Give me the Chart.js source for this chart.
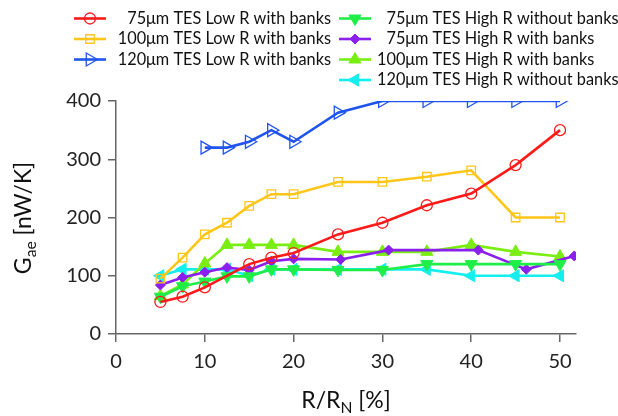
<!doctype html>
<html>
<head>
<title>Gae vs R/RN</title>
<script src="https://cdn.jsdelivr.net/npm/chart.js@4.4.0/dist/chart.umd.min.js"></script>
<style>
body { margin: 0; background: #fff; }
</style>
</head>
<body>
<canvas id="canvas" width="618" height="416"></canvas>
<script>
var xTicks = [0, 10, 20, 30, 40, 50];
var yTicks = [0, 100, 200, 300, 400];

var seriesLabels = [
    "75\u03bcm TES Low R with banks",
    "100\u03bcm TES Low R with banks",
    "120\u03bcm TES Low R with banks",
    "75\u03bcm TES High R without banks",
    "75\u03bcm TES High R with banks",
    "100\u03bcm TES High R with banks",
    "120\u03bcm TES High R without banks"
];

var red75LowX = [5, 7.5, 10, 15, 17.5, 20, 25, 30, 35, 40, 45, 50];
var red75LowY = [55, 64, 80, 120, 131, 139, 171, 191, 221, 241, 290, 350];

var yel100LowX = [5, 7.5, 10, 12.5, 15, 17.5, 20, 25, 30, 35, 40, 45, 50];
var yel100LowY = [95, 131, 171, 191, 220, 240, 240, 261, 261, 270, 281, 200, 200];

var blue120LowX = [10, 12.5, 15, 17.5, 20, 25, 30, 35, 40, 45, 50];
var blue120LowY = [320, 320, 330, 350, 330, 380, 400, 400, 400, 400, 400];

var grn75NoBankX = [5, 7.5, 10, 12.5, 15, 17.5, 20, 25, 30, 35, 40, 45, 50];
var grn75NoBankY = [64, 82, 90, 99, 99, 111, 111, 110, 110, 120, 120, 120, 120];

var pur75HighX = [5, 7.5, 10, 12.5, 15, 17.5, 20, 25.3, 30.7, 40.8, 46.2, 51.6];
var pur75HighY = [84, 97, 106, 114, 110, 125, 129, 128, 144, 144, 111, 134];

var lime100HighX = [5, 7.5, 10, 12.5, 15, 17.5, 20, 25, 30, 35, 40, 45, 50];
var lime100HighY = [65, 85, 121, 153, 153, 153, 153, 141, 141, 141, 153, 141, 133];

var cyan120NoBankX = [5, 7.5, 10, 12.5, 15, 17.5, 20, 25, 30, 35, 40, 45, 50];
var cyan120NoBankY = [100, 111, 111, 111, 100, 111, 111, 111, 111, 111, 100, 100, 100];

var FONT = "Lato, 'Open Sans', sans-serif";

var pairs = function(xs, ys) {
    return xs.map(function(x, i) { return {x: x, y: ys[i]}; });
};

var makeSet = function(label, xs, ys, color, style, radius, rotation, filled) {
    return {
        label: label,
        data: pairs(xs, ys),
        borderColor: color,
        backgroundColor: color,
        borderWidth: 2.6,
        pointStyle: style,
        pointRadius: radius,
        pointRotation: rotation,
        pointBorderColor: color,
        pointBackgroundColor: filled ? color : 'rgba(0,0,0,0)',
        pointBorderWidth: filled ? 1 : 1.3,
        tension: 0
    };
};

var datasets = [
    makeSet(seriesLabels[0], red75LowX, red75LowY, '#ff1a1a', 'circle', 5.5, 0, false),
    makeSet(seriesLabels[1], yel100LowX, yel100LowY, '#ffc61a', 'rect', 6, 0, false),
    makeSet(seriesLabels[2], blue120LowX, blue120LowY, '#1f55ee', 'triangle', 7.5, 90, false),
    makeSet(seriesLabels[3], grn75NoBankX, grn75NoBankY, '#1fee48', 'triangle', 7, 180, true),
    makeSet(seriesLabels[4], pur75HighX, pur75HighY, '#8a1fee', 'rectRot', 5, 0, true),
    makeSet(seriesLabels[5], lime100HighX, lime100HighY, '#7aee12', 'triangle', 7, 0, true),
    makeSet(seriesLabels[6], cyan120NoBankX, cyan120NoBankY, '#14eeee', 'triangle', 7, -90, true)
];

// draw text with subscript pieces, centred at (cx, cy)
var drawSubText = function(ctx, parts, cx, cy, size) {
    var total = 0;
    parts.forEach(function(p) {
        ctx.font = (p.sub ? size * 0.68 : size) + 'px ' + FONT;
        p.w = ctx.measureText(p.t).width;
        total += p.w;
    });
    var x = cx - total / 2;
    ctx.textAlign = 'left';
    ctx.textBaseline = 'middle';
    parts.forEach(function(p) {
        ctx.font = (p.sub ? size * 0.68 : size) + 'px ' + FONT;
        ctx.fillText(p.t, x, cy + (p.sub ? size * 0.3 : 0));
        x += p.w;
    });
};

var extras = {
    id: 'extras',
    afterDraw: function(chart) {
        var ctx = chart.ctx;
        ctx.save();
        ctx.fillStyle = '#111';

        // axis titles
        drawSubText(ctx, [{t: 'R/R'}, {t: 'N', sub: true}, {t: ' [%]'}], 346, 401, 23);
        ctx.save();
        ctx.translate(24, 218);
        ctx.rotate(-Math.PI / 2);
        drawSubText(ctx, [{t: 'G'}, {t: 'ae', sub: true}, {t: ' [nW/K]'}], 0, 0, 23);
        ctx.restore();

        // legend: two columns
        var legendFont = '16.3px ' + FONT;
        ctx.font = legendFont;
        ctx.textBaseline = 'middle';
        var digit = ctx.measureText('1').width;
        chart.data.datasets.forEach(function(ds, i) {
            var col = i < 3 ? 0 : 1;
            var row = col === 0 ? i : i - 3;
            var y = 18.5 + row * 20.5;
            var lx = col === 0 ? 74 : 339;
            ctx.strokeStyle = ds.borderColor;
            ctx.lineWidth = 2.6;
            ctx.beginPath();
            ctx.moveTo(lx, y);
            ctx.lineTo(lx + 32, y);
            ctx.stroke();
            ctx.fillStyle = ds.pointBackgroundColor;
            ctx.strokeStyle = ds.borderColor;
            ctx.lineWidth = ds.pointBorderWidth;
            Chart.helpers.drawPoint(ctx, {
                pointStyle: ds.pointStyle,
                radius: ds.pointRadius,
                rotation: ds.pointRotation,
                borderWidth: ds.pointBorderWidth
            }, lx + 16, y);
            ctx.fillStyle = '#111';
            ctx.font = legendFont;
            if (col === 0) {
                ctx.textAlign = 'right';
                ctx.fillText(ds.label, 331, y);
            } else {
                ctx.textAlign = 'left';
                var tx = 377 + (ds.label.indexOf('75') === 0 ? digit : 0);
                ctx.fillText(ds.label, tx, y);
            }
        });
        ctx.restore();
    }
};

var config = {
    type: 'line',
    data: { datasets: datasets },
    options: {
        responsive: false,
        animation: false,
        layout: { padding: { top: 101, right: 42, bottom: 0, left: 0 } },
        plugins: {
            legend: { display: false },
            tooltip: { enabled: false }
        },
        scales: {
            x: {
                type: 'linear',
                min: 0,
                max: 51.8,
                afterBuildTicks: function(scale) {
                    scale.ticks = xTicks.map(function(v) { return {value: v}; });
                },
                afterFit: function(scale) { scale.height = 82; },
                grid: { drawOnChartArea: false, drawTicks: true, tickLength: 8, color: '#666', lineWidth: 1.5 },
                border: { color: '#666', width: 1.5 },
                ticks: { font: { family: FONT, size: 20 }, color: '#222', padding: 8, maxRotation: 0 }
            },
            y: {
                type: 'linear',
                min: 0,
                max: 400,
                afterBuildTicks: function(scale) {
                    scale.ticks = yTicks.map(function(v) { return {value: v}; });
                },
                afterFit: function(scale) { scale.width = 116; },
                grid: { drawOnChartArea: false, drawTicks: true, tickLength: 8, color: '#666', lineWidth: 1.5 },
                border: { color: '#666', width: 1.5 },
                ticks: { font: { family: FONT, size: 20 }, color: '#222', padding: 7 }
            }
        }
    },
    plugins: [extras]
};

window.onload = function() {
    window.myChart = new Chart(document.getElementById('canvas'), config);
};
</script>
</body>
</html>
